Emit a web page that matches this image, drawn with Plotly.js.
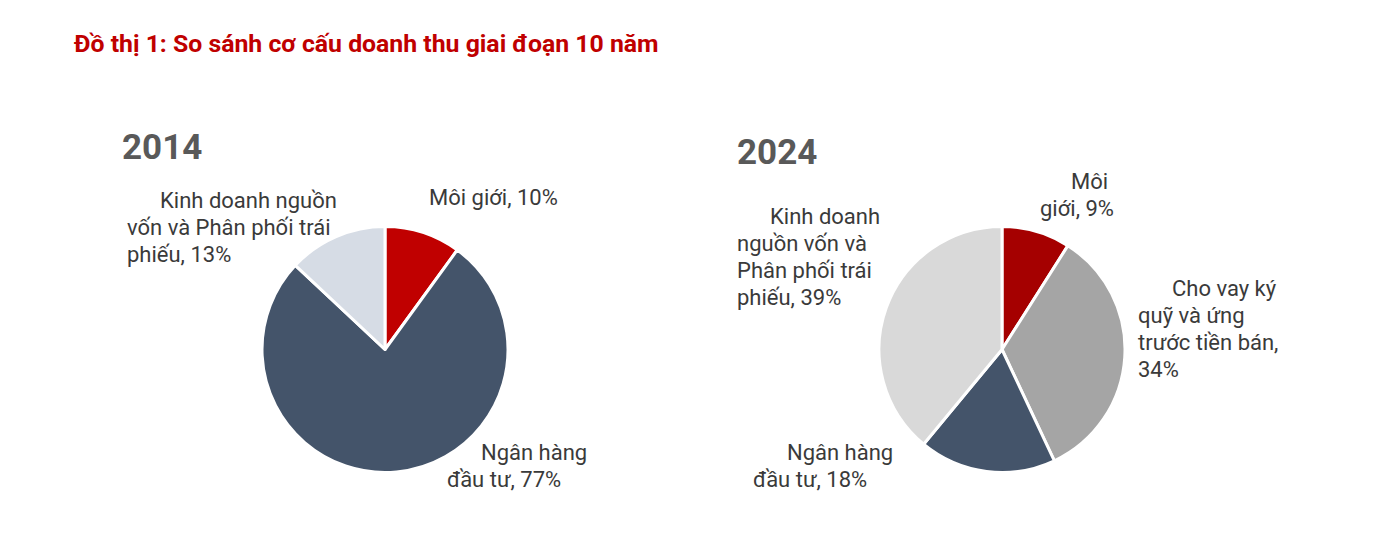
<!DOCTYPE html>
<html>
<head>
<meta charset="utf-8">
<script src="https://cdn.plot.ly/plotly-3.0.1.min.js"></script>
<style>
  html, body { margin: 0; padding: 0; background: #fff; }
  #chart { width: 1374px; height: 559px; }
</style>
</head>
<body>
<div id="chart"></div>
<script>
var chartTitle = 'Đồ thị 1: So sánh cơ cấu doanh thu giai đoạn 10 năm';

var years = ['2014', '2024'];

var cats2014 = ['Môi giới', 'Ngân hàng đầu tư', 'Kinh doanh nguồn vốn và Phân phối trái phiếu'];
var vals2014 = [10, 77, 13];
var colors2014 = ['#C00000', '#44546A', '#D6DCE5'];

var cats2024 = ['Môi giới', 'Cho vay ký quỹ và ứng trước tiền bán', 'Ngân hàng đầu tư', 'Kinh doanh nguồn vốn và Phân phối trái phiếu'];
var vals2024 = [9, 34, 18, 39];
var colors2024 = ['#A50000', '#A5A5A5', '#44546A', '#D9D9D9'];

// label text, broken into lines like the original
var lines2014 =
[
    ['Môi giới, 10%'],
    ['Ngân hàng', 'đầu tư, 77%'],
    ['Kinh doanh nguồn', 'vốn và Phân phối trái', 'phiếu, 13%']
];

var lines2024 =
[
    ['Môi', 'giới, 9%'],
    ['Cho vay ký', 'quỹ và ứng', 'trước tiền bán,', '34%'],
    ['Ngân hàng', 'đầu tư, 18%'],
    ['Kinh doanh', 'nguồn vốn và', 'Phân phối trái', 'phiếu, 39%']
];

var W = 1374, H = 559;
var textColor = '#3a3a3a';
var fontName = 'Roboto, "Noto Sans", sans-serif';

// pixel x of each line start and y of first line
var pos2014 =
[
    [[427], 197],
    [[479, 445], 452],
    [[158, 125, 125], 200]
];
var pos2024 =
[
    [[1069, 1038], 181],
    [[1170, 1136, 1136, 1136], 288],
    [[785, 751], 452],
    [[768, 735, 735, 735], 216]
];
var lineH = 27.3;

function pieTrace(cats, vals, colors, x0, x1)
{
    return {
        type: 'pie',
        labels: cats,
        values: vals,
        sort: false,
        direction: 'clockwise',
        rotation: 0,
        textinfo: 'none',
        hoverinfo: 'label+percent',
        marker:
        {
            colors: colors,
            line: { color: '#ffffff', width: 3 }
        },
        domain:
        {
            x: [x0 / W, x1 / W],
            y: [1 - 473 / H, 1 - 226 / H]
        },
        showlegend: false
    };
}

function labelAnnotations(lines, pos)
{
    var out = [];
    for (var i = 0; i < lines.length; i++)
    {
        for (var j = 0; j < lines[i].length; j++)
        {
            out.push({
                text: lines[i][j],
                xref: 'paper',
                yref: 'paper',
                x: pos[i][0][j] / W,
                y: 1 - (pos[i][1] + j * lineH) / H,
                xanchor: 'left',
                yanchor: 'middle',
                showarrow: false,
                font: { family: fontName, size: 22, color: textColor }
            });
        }
    }
    return out;
}

var data =
[
    pieTrace(cats2014, vals2014, colors2014, 262, 508),
    pieTrace(cats2024, vals2024, colors2024, 879, 1125)
];

var annotations = [];
annotations.push({
    text: '<b>' + chartTitle + '</b>',
    xref: 'paper', yref: 'paper',
    x: 72 / W, y: 1 - 44 / H,
    xanchor: 'left', yanchor: 'middle',
    showarrow: false,
    font: { family: fontName, size: 24.8, color: '#C00000' }
});
annotations.push({
    text: '<b>' + years[0] + '</b>',
    xref: 'paper', yref: 'paper',
    x: 120 / W, y: 1 - 147 / H,
    xanchor: 'left', yanchor: 'middle',
    showarrow: false,
    font: { family: fontName, size: 35, color: '#595959' }
});
annotations.push({
    text: '<b>' + years[1] + '</b>',
    xref: 'paper', yref: 'paper',
    x: 735 / W, y: 1 - 152 / H,
    xanchor: 'left', yanchor: 'middle',
    showarrow: false,
    font: { family: fontName, size: 35, color: '#595959' }
});
annotations = annotations.concat(labelAnnotations(lines2014, pos2014));
annotations = annotations.concat(labelAnnotations(lines2024, pos2024));

var layout =
{
    width: W,
    height: H,
    margin: { l: 0, r: 0, t: 0, b: 0 },
    paper_bgcolor: '#ffffff',
    plot_bgcolor: '#ffffff',
    font: { family: fontName, color: textColor },
    showlegend: false,
    annotations: annotations
};

Plotly.newPlot('chart', data, layout, { displayModeBar: false, staticPlot: true });
</script>
</body>
</html>
